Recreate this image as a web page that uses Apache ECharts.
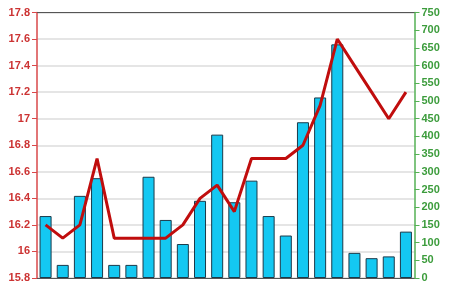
<!DOCTYPE html>
<html>
<head>
<meta charset="utf-8">
<script src="https://cdn.jsdelivr.net/npm/echarts@6/dist/echarts.min.js"></script>
<style>html,body{margin:0;padding:0;background:#fff}#c{width:450px;height:291px}</style>
</head>
<body>
<div id="c"></div>
<script>
const categories = ['1','2','3','4','5','6','7','8','9','10','11','12','13','14','15','16','17','18','19','20','21','22'];
const barValues = [175, 37, 232, 282, 37, 37, 286, 164, 96, 218, 405, 214, 275, 175, 120, 440, 510, 660, 71, 56, 61, 131];
const lineValues = [16.2, 16.1, 16.2, 16.7, 16.1, 16.1, 16.1, 16.1, 16.2, 16.4, 16.5, 16.3, 16.7, 16.7, 16.7, 16.8, 17.1, 17.6, 17.4, 17.2, 17.0, 17.2];

const chart = echarts.init(document.getElementById('c'), null, {renderer: 'canvas'});
const font = 'Arial, "Liberation Sans", sans-serif';
chart.setOption({
  animation: false,
  backgroundColor: '#fff',
  grid: {left: 37, right: 35.5, top: 12.5, bottom: 13},
  xAxis: [{
    type: 'category', data: categories, position: 'bottom',
    axisLine: {show: true, lineStyle: {color: '#555', width: 1}},
    axisTick: {show: false}, axisLabel: {show: false}, splitLine: {show: false}
  }, {
    type: 'category', data: categories, position: 'top',
    axisLine: {show: true, lineStyle: {color: '#555', width: 1}},
    axisTick: {show: false}, axisLabel: {show: false}, splitLine: {show: false}
  }],
  yAxis: [{
    type: 'value', min: 15.8, max: 17.8, interval: 0.2, position: 'left',
    axisLine: {show: true, lineStyle: {color: '#d9484a', width: 1.5}},
    axisTick: {show: true, length: 5, lineStyle: {color: '#d9484a'}},
    axisLabel: {color: '#cc3333', fontFamily: font, fontSize: 11, fontWeight: 'bold', margin: 7,
      formatter: v => String(+v.toFixed(1))},
    splitLine: {show: true, lineStyle: {color: '#dddddd', width: 1.5}}
  }, {
    type: 'value', min: 0, max: 750, interval: 50, position: 'right',
    axisLine: {show: true, lineStyle: {color: '#55b055', width: 1.5}},
    axisTick: {show: true, length: 5, lineStyle: {color: '#55b055'}},
    axisLabel: {color: '#3c9c3c', fontFamily: font, fontSize: 11, fontWeight: 'bold', margin: 7},
    splitLine: {show: false}
  }],
  series: [{
    type: 'bar', data: barValues, yAxisIndex: 1, xAxisIndex: 0, barWidth: '70%',
    itemStyle: {color: '#14c8f2', borderColor: '#1b3a4a', borderWidth: 1}
  }, {
    type: 'line', data: lineValues, yAxisIndex: 0, xAxisIndex: 0,
    symbol: 'none', smooth: false,
    lineStyle: {color: '#c00d0d', width: 3}
  }]
});
</script>
</body>
</html>
